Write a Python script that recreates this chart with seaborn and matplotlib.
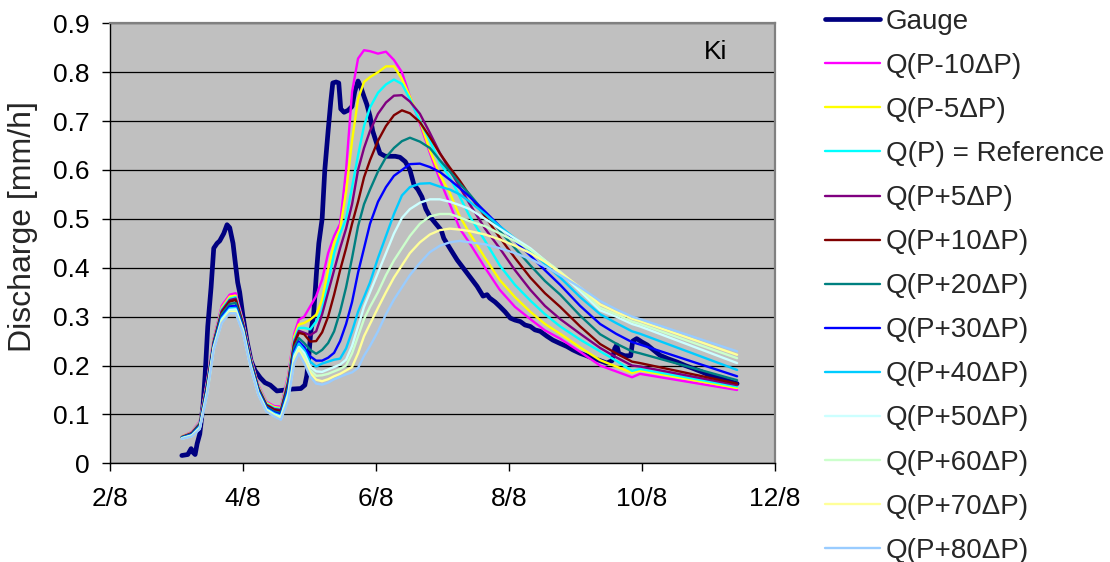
import matplotlib
matplotlib.use("Agg")
import matplotlib.pyplot as plt
import numpy as np
import seaborn as sns

# Time in days of August (2 = 2/8 00:00)
t_model = [3.08, 3.23, 3.35, 3.46, 3.56, 3.68, 3.80, 3.89, 4.00, 4.11, 4.23, 4.35,
           4.47, 4.57, 4.68, 4.77, 4.84, 4.92, 5.01, 5.10, 5.19, 5.28, 5.37, 5.46,
           5.55, 5.64, 5.73, 5.82, 5.91, 6.03, 6.15, 6.27, 6.39, 6.51, 6.66, 6.81,
           6.96, 7.11, 7.26, 7.41, 7.64, 7.86, 8.09, 8.32, 8.54, 8.77, 9.07, 9.37,
           9.61, 9.85, 9.97, 11.43]

q_m10 = [0.055, 0.064, 0.086, 0.170, 0.255, 0.322, 0.345, 0.348, 0.292, 0.220, 0.160, 0.126,
         0.117, 0.116, 0.180, 0.265, 0.294, 0.300, 0.321, 0.342, 0.376, 0.430, 0.465, 0.490,
         0.600, 0.760, 0.828, 0.845, 0.843, 0.838, 0.842, 0.825, 0.800, 0.750, 0.695, 0.635,
         0.580, 0.530, 0.480, 0.450, 0.400, 0.355, 0.320, 0.295, 0.272, 0.255, 0.228, 0.200,
         0.188, 0.176, 0.183, 0.150]
q_m5 = [0.055, 0.063, 0.084, 0.166, 0.252, 0.318, 0.341, 0.343, 0.289, 0.217, 0.158, 0.124,
        0.115, 0.113, 0.175, 0.259, 0.284, 0.287, 0.294, 0.304, 0.335, 0.396, 0.451, 0.480,
        0.555, 0.660, 0.745, 0.780, 0.790, 0.800, 0.812, 0.812, 0.786, 0.750, 0.700, 0.640,
        0.590, 0.553, 0.505, 0.470, 0.420, 0.375, 0.340, 0.310, 0.285, 0.265, 0.237, 0.211,
        0.198, 0.185, 0.190, 0.154]
q_ref = [0.054, 0.062, 0.083, 0.164, 0.250, 0.315, 0.337, 0.340, 0.287, 0.216, 0.156, 0.122,
         0.113, 0.111, 0.171, 0.253, 0.277, 0.277, 0.274, 0.290, 0.314, 0.369, 0.430, 0.470,
         0.500, 0.565, 0.630, 0.690, 0.728, 0.758, 0.775, 0.785, 0.776, 0.745, 0.700, 0.660,
         0.615, 0.585, 0.545, 0.505, 0.455, 0.405, 0.365, 0.333, 0.305, 0.280, 0.253, 0.229,
         0.210, 0.189, 0.193, 0.157]
q_p5 = [0.054, 0.062, 0.081, 0.162, 0.249, 0.312, 0.334, 0.337, 0.285, 0.214, 0.154, 0.120,
        0.111, 0.109, 0.167, 0.248, 0.271, 0.267, 0.262, 0.270, 0.305, 0.350, 0.395, 0.440,
        0.480, 0.530, 0.600, 0.645, 0.680, 0.715, 0.738, 0.752, 0.753, 0.740, 0.715, 0.676,
        0.635, 0.600, 0.565, 0.530, 0.480, 0.440, 0.395, 0.355, 0.322, 0.295, 0.265, 0.236,
        0.217, 0.200, 0.198, 0.160]
q_p10 = [0.053, 0.061, 0.080, 0.159, 0.247, 0.309, 0.331, 0.334, 0.283, 0.212, 0.153, 0.119,
         0.109, 0.107, 0.163, 0.244, 0.267, 0.264, 0.249, 0.250, 0.268, 0.300, 0.345, 0.395,
         0.440, 0.490, 0.535, 0.585, 0.620, 0.660, 0.690, 0.712, 0.722, 0.716, 0.698, 0.667,
         0.634, 0.605, 0.578, 0.548, 0.505, 0.462, 0.420, 0.380, 0.348, 0.320, 0.280, 0.244,
         0.225, 0.208, 0.205, 0.163]
q_p20 = [0.053, 0.060, 0.078, 0.155, 0.244, 0.305, 0.326, 0.328, 0.280, 0.209, 0.150, 0.116,
         0.106, 0.103, 0.157, 0.237, 0.256, 0.246, 0.232, 0.224, 0.232, 0.246, 0.270, 0.310,
         0.360, 0.420, 0.485, 0.530, 0.560, 0.597, 0.626, 0.645, 0.659, 0.666, 0.658, 0.645,
         0.620, 0.597, 0.572, 0.550, 0.512, 0.476, 0.440, 0.405, 0.373, 0.345, 0.302, 0.264,
         0.245, 0.229, 0.225, 0.170]
q_p30 = [0.052, 0.059, 0.076, 0.151, 0.241, 0.300, 0.321, 0.322, 0.277, 0.206, 0.148, 0.114,
         0.104, 0.100, 0.151, 0.230, 0.249, 0.238, 0.219, 0.210, 0.210, 0.216, 0.226, 0.250,
         0.285, 0.330, 0.390, 0.440, 0.490, 0.535, 0.565, 0.588, 0.600, 0.612, 0.613, 0.606,
         0.596, 0.580, 0.563, 0.545, 0.515, 0.485, 0.455, 0.425, 0.395, 0.365, 0.322, 0.285,
         0.265, 0.248, 0.243, 0.178]
q_p40 = [0.052, 0.058, 0.075, 0.148, 0.239, 0.297, 0.317, 0.318, 0.274, 0.204, 0.146, 0.112,
         0.102, 0.097, 0.146, 0.224, 0.245, 0.232, 0.208, 0.198, 0.204, 0.208, 0.212, 0.214,
         0.235, 0.270, 0.310, 0.340, 0.370, 0.420, 0.465, 0.510, 0.548, 0.565, 0.572, 0.573,
         0.566, 0.560, 0.550, 0.535, 0.510, 0.485, 0.460, 0.435, 0.408, 0.380, 0.340, 0.305,
         0.287, 0.270, 0.265, 0.191]
q_p50 = [0.051, 0.057, 0.073, 0.146, 0.237, 0.294, 0.314, 0.315, 0.272, 0.202, 0.144, 0.110,
         0.100, 0.095, 0.142, 0.219, 0.238, 0.226, 0.198, 0.188, 0.187, 0.192, 0.197, 0.202,
         0.212, 0.240, 0.280, 0.320, 0.350, 0.390, 0.430, 0.470, 0.502, 0.520, 0.533, 0.540,
         0.540, 0.535, 0.528, 0.520, 0.500, 0.480, 0.460, 0.440, 0.415, 0.390, 0.352, 0.313,
         0.300, 0.285, 0.280, 0.205]
q_p60 = [0.051, 0.056, 0.072, 0.144, 0.235, 0.291, 0.311, 0.312, 0.270, 0.200, 0.142, 0.109,
         0.099, 0.093, 0.138, 0.214, 0.235, 0.219, 0.191, 0.179, 0.180, 0.183, 0.188, 0.193,
         0.200, 0.225, 0.260, 0.295, 0.320, 0.350, 0.385, 0.415, 0.440, 0.465, 0.490, 0.505,
         0.510, 0.510, 0.503, 0.495, 0.485, 0.470, 0.455, 0.437, 0.415, 0.392, 0.357, 0.318,
         0.305, 0.290, 0.285, 0.215]
q_p70 = [0.050, 0.056, 0.071, 0.142, 0.234, 0.289, 0.309, 0.309, 0.268, 0.199, 0.141, 0.107,
         0.097, 0.091, 0.134, 0.209, 0.230, 0.212, 0.185, 0.171, 0.168, 0.172, 0.178, 0.183,
         0.190, 0.197, 0.225, 0.260, 0.285, 0.318, 0.350, 0.380, 0.405, 0.430, 0.452, 0.468,
         0.477, 0.480, 0.478, 0.475, 0.468, 0.458, 0.445, 0.430, 0.412, 0.390, 0.360, 0.325,
         0.310, 0.296, 0.291, 0.222]
q_p80 = [0.050, 0.055, 0.070, 0.140, 0.232, 0.287, 0.307, 0.307, 0.266, 0.198, 0.140, 0.106,
         0.096, 0.089, 0.130, 0.205, 0.225, 0.205, 0.178, 0.163, 0.161, 0.165, 0.172, 0.177,
         0.182, 0.186, 0.195, 0.220, 0.240, 0.270, 0.305, 0.335, 0.360, 0.385, 0.410, 0.432,
         0.445, 0.452, 0.455, 0.452, 0.448, 0.440, 0.430, 0.418, 0.403, 0.385, 0.360, 0.332,
         0.315, 0.300, 0.295, 0.229]

t_gauge = [3.08, 3.17, 3.22, 3.25, 3.28, 3.31, 3.35, 3.40, 3.43, 3.47, 3.52, 3.56,
           3.61, 3.65, 3.71, 3.76, 3.80, 3.85, 3.88, 3.92, 3.95, 4.00, 4.06, 4.12,
           4.18, 4.26, 4.33, 4.41, 4.51, 4.63, 4.75, 4.87, 4.93, 4.96, 4.99, 5.02,
           5.06, 5.11, 5.14, 5.19, 5.23, 5.28, 5.32, 5.35, 5.40, 5.44, 5.47, 5.52,
           5.58, 5.64, 5.68, 5.73, 5.77, 5.82, 5.86, 5.91, 5.95, 6.02, 6.06, 6.14,
           6.29, 6.36, 6.44, 6.51, 6.57, 6.63, 6.69, 6.75, 6.81, 6.90, 6.98, 7.02,
           7.11, 7.22, 7.37, 7.52, 7.61, 7.67, 7.71, 7.79, 7.86, 7.94, 8.02, 8.09,
           8.17, 8.24, 8.32, 8.39, 8.47, 8.57, 8.66, 8.77, 8.87, 8.96, 9.07, 9.17,
           9.26, 9.37, 9.47, 9.55, 9.59, 9.62, 9.65, 9.74, 9.83, 9.86, 9.92, 10.00,
           10.08, 10.17, 10.27, 10.39, 10.53, 10.65, 10.77, 10.90, 11.02, 11.22, 11.43]
q_gauge = [0.016, 0.018, 0.030, 0.022, 0.018, 0.040, 0.060, 0.120, 0.180, 0.280, 0.360, 0.440,
           0.450, 0.455, 0.470, 0.488, 0.482, 0.450, 0.415, 0.370, 0.350, 0.300, 0.250, 0.210,
           0.190, 0.175, 0.165, 0.160, 0.148, 0.150, 0.152, 0.153, 0.160, 0.180, 0.220, 0.270,
           0.300, 0.400, 0.450, 0.500, 0.600, 0.680, 0.740, 0.778, 0.780, 0.778, 0.725, 0.718,
           0.722, 0.730, 0.760, 0.782, 0.770, 0.750, 0.735, 0.710, 0.680, 0.650, 0.634, 0.628,
           0.628, 0.626, 0.617, 0.600, 0.570, 0.560, 0.545, 0.520, 0.505, 0.490, 0.477, 0.460,
           0.440, 0.416, 0.389, 0.362, 0.342, 0.345, 0.338, 0.330, 0.321, 0.310, 0.297, 0.293,
           0.290, 0.283, 0.280, 0.273, 0.270, 0.260, 0.252, 0.245, 0.239, 0.232, 0.225, 0.220,
           0.215, 0.210, 0.205, 0.210, 0.235, 0.242, 0.225, 0.220, 0.220, 0.250, 0.255, 0.248,
           0.242, 0.232, 0.221, 0.214, 0.207, 0.200, 0.194, 0.187, 0.180, 0.172, 0.163]

model_labels = ["Q(P-10ΔP)", "Q(P-5ΔP)", "Q(P) = Reference", "Q(P+5ΔP)", "Q(P+10ΔP)",
                "Q(P+20ΔP)", "Q(P+30ΔP)", "Q(P+40ΔP)", "Q(P+50ΔP)", "Q(P+60ΔP)",
                "Q(P+70ΔP)", "Q(P+80ΔP)"]
model_values = [q_m10, q_m5, q_ref, q_p5, q_p10, q_p20, q_p30, q_p40, q_p50, q_p60, q_p70, q_p80]
model_colors = ["#FF00FF", "#FFFF00", "#00FFFF", "#800080", "#800000", "#008080",
                "#0000FF", "#00CCFF", "#CCFFFF", "#CCFFCC", "#FFFF99", "#99CCFF"]

x_ticks = [2, 4, 6, 8, 10, 12]
x_tick_labels = ["2/8", "4/8", "6/8", "8/8", "10/8", "12/8"]
y_ticks = [0, 0.1, 0.2, 0.3, 0.4, 0.5, 0.6, 0.7, 0.8, 0.9]
y_tick_labels = ["0", "0.1", "0.2", "0.3", "0.4", "0.5", "0.6", "0.7", "0.8", "0.9"]

sns.set_style("white")
plt.rcParams["font.family"] = ["Liberation Sans", "DejaVu Sans"]

fig = plt.figure(figsize=(11.1, 5.62), dpi=100)
ax = fig.add_axes([0.0991, 0.1756, 0.5991, 0.7829])
ax.set_facecolor("#C0C0C0")

sns.lineplot(x=t_gauge, y=q_gauge, ax=ax, color="#000080", linewidth=3.4,
             label="Gauge", estimator=None, sort=False)
for name, vals, col in zip(model_labels, model_values, model_colors):
    sns.lineplot(x=t_model, y=vals, ax=ax, color=col, linewidth=1.7,
                 label=name, estimator=None, sort=False)

ax.set_xlim(2, 12)
ax.set_ylim(0, 0.9)
ax.set_xticks(x_ticks)
ax.set_xticklabels(x_tick_labels)
ax.set_yticks(y_ticks)
ax.set_yticklabels(y_tick_labels)
ax.yaxis.grid(True, color="black", linewidth=0.9)
ax.xaxis.grid(False)
ax.set_axisbelow(True)
ax.tick_params(axis="both", direction="out", length=6, width=1, color="black",
               labelsize=19, labelcolor="black")
ax.tick_params(axis="y", left=True, pad=9)
ax.tick_params(axis="x", bottom=True, pad=11)

for side in ("top", "right"):
    ax.spines[side].set_color("#808080")
    ax.spines[side].set_linewidth(1.6)
for side in ("left", "bottom"):
    ax.spines[side].set_color("black")
    ax.spines[side].set_linewidth(1.0)

ax.set_xlabel("")
ax.set_ylabel("Discharge [mm/h]", fontsize=23, va="center")
ax.yaxis.set_label_coords(-0.131, 0.537)

ax.text(0.91, 0.935, "Ki", transform=ax.transAxes, fontsize=19,
        ha="center", va="center", color="black")

ax.legend(loc="upper left", bbox_to_anchor=(825 / 1110, 1 - 9 / 562),
          bbox_transform=fig.transFigure, frameon=False, fontsize=20,
          handlelength=1.98, handletextpad=0.22, labelspacing=0.65,
          borderpad=0, borderaxespad=0)

fig.savefig("out.png", dpi=100)
